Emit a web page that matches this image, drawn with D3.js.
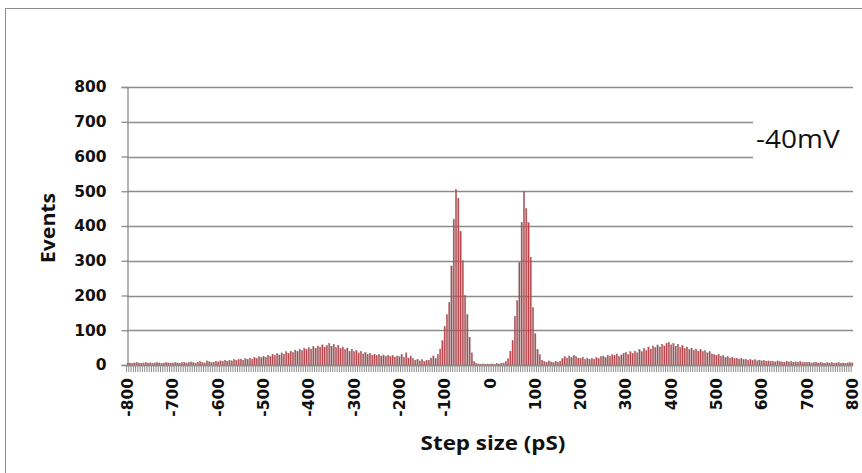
<!DOCTYPE html>
<html>
<head>
<meta charset="utf-8">
<script src="https://cdn.jsdelivr.net/npm/d3@7"></script>
<style>
  body { margin: 0; background: #fff; }
  text { font-family: "DejaVu Sans", Verdana, sans-serif; }
</style>
</head>
<body>
<script>
// step sizes, -800..800 pS in 5 pS bins
var stepSizes = d3.range(-800, 801, 5);

// events per bin, one row per 100 pS
var events = [
  5, 6, 5, 6, 7, 6, 5, 6, 7, 6, 6, 5, 6, 7, 6, 5, 6, 7, 6, 6,
  6, 7, 6, 5, 7, 8, 6, 7, 9, 7, 6, 8, 10, 7, 6, 12, 9, 7, 8, 11,
  9, 12, 10, 13, 11, 14, 12, 16, 13, 15, 17, 14, 18, 16, 20, 17, 22, 19, 24, 21,
  25, 22, 28, 24, 30, 27, 33, 29, 35, 31, 38, 34, 40, 36, 43, 39, 45, 41, 48, 44,
  50, 46, 53, 48, 55, 51, 58, 52, 56, 62, 54, 60, 50, 57, 47, 52, 44, 49, 40, 46,
  38, 42, 35, 39, 32, 36, 30, 34, 28, 31, 27, 30, 26, 29, 25, 28, 24, 27, 23, 26,
  24, 30, 22, 35, 20, 26, 18, 14, 16, 12, 15, 10, 13, 14, 20, 26, 18, 30, 46, 70,
  110, 145, 180, 285, 420, 505, 480, 385, 300, 200, 145, 80, 35, 10, 4, 3, 2, 3, 2, 3,
  2, 3, 2, 4, 3, 5, 6, 10, 18, 40, 70, 140, 185, 295, 410, 500, 450, 410, 310, 165,
  90, 45, 30, 14, 10, 8, 12, 9, 7, 10, 8, 11, 18, 24, 20, 26, 22, 28, 24, 20,
  18, 22, 16, 20, 15, 19, 17, 21, 18, 24, 26, 22, 28, 25, 30, 27, 32, 24, 29, 34,
  36, 30, 38, 33, 40, 35, 45, 38, 48, 42, 52, 46, 55, 50, 58, 52, 60, 55, 63, 65,
  58, 62, 54, 60, 50, 56, 48, 52, 45, 49, 42, 46, 40, 44, 38, 41, 35, 38, 32, 30,
  28, 31, 25, 27, 22, 24, 20, 22, 18, 20, 17, 19, 15, 17, 14, 16, 13, 15, 12, 14,
  12, 13, 11, 12, 10, 11, 9, 12, 10, 9, 8, 11, 9, 10, 8, 9, 8, 10, 7, 8,
  7, 8, 6, 7, 8, 6, 7, 6, 5, 7, 6, 7, 5, 6, 7, 5, 6, 5, 6, 7,
  6
];

var yTicks = [0, 100, 200, 300, 400, 500, 600, 700, 800];
var xLabels = [-800, -700, -600, -500, -400, -300, -200, -100, 0,
               100, 200, 300, 400, 500, 600, 700, 800];

var width = 862, height = 473;
var plotLeft = 127, plotRight = 853, plotTop = 87, plotBottom = 365;

var svg = d3.select('body').append('svg')
  .attr('width', width)
  .attr('height', height);

// outer frame
svg.append('rect')
  .attr('x', 5.5).attr('y', 8.5)
  .attr('width', 870).attr('height', 480)
  .attr('fill', 'none')
  .attr('stroke', '#8c8c8c');

var x = d3.scaleBand()
  .domain(stepSizes)
  .range([plotLeft, plotRight])
  .paddingInner(0.4);

var y = d3.scaleLinear()
  .domain([0, 800])
  .range([plotBottom, plotTop]);

// gridlines
svg.append('g')
  .selectAll('line')
  .data(yTicks)
  .join('line')
  .attr('x1', plotLeft).attr('x2', plotRight)
  .attr('y1', function(d) { return Math.round(y(d)) + 0.5; })
  .attr('y2', function(d) { return Math.round(y(d)) + 0.5; })
  .attr('stroke', '#8c8c8c')
  .attr('stroke-width', 1.3);

// y axis
var yAxis = svg.append('g')
  .attr('transform', 'translate(' + (plotLeft + 0.5) + ',0)')
  .call(d3.axisLeft(y).tickValues(yTicks).tickSize(6).tickPadding(15));
yAxis.select('.domain').attr('stroke', '#8c8c8c').attr('stroke-width', 1.3);
yAxis.selectAll('.tick line').attr('stroke', '#8c8c8c').attr('stroke-width', 1.3);
yAxis.selectAll('.tick text')
  .attr('font-size', 15.5)
  .attr('font-weight', 'bold')
  .attr('fill', '#111')
  .style('font-family', '"DejaVu Sans", Verdana, sans-serif');

// bars
svg.append('g')
  .selectAll('rect')
  .data(events)
  .join('rect')
  .attr('x', function(d, i) { return x(stepSizes[i]); })
  .attr('y', function(d) { return y(d); })
  .attr('width', x.bandwidth())
  .attr('height', function(d) { return y(0) - y(d); })
  .attr('fill', '#c23f48')
  .attr('stroke', '#947070')
  .attr('stroke-width', 0.35);

// category tick marks under the axis
var step = x.step();
svg.append('g')
  .selectAll('line')
  .data(stepSizes)
  .join('line')
  .attr('x1', function(d) { return x(d) - step * 0.2; })
  .attr('x2', function(d) { return x(d) - step * 0.2; })
  .attr('y1', plotBottom)
  .attr('y2', plotBottom + 7)
  .attr('stroke', '#8c8c8c')
  .attr('stroke-width', 1);

// x axis line
svg.append('line')
  .attr('x1', plotLeft).attr('x2', plotRight)
  .attr('y1', plotBottom + 0.5).attr('y2', plotBottom + 0.5)
  .attr('stroke', '#8c8c8c')
  .attr('stroke-width', 1.3);

// x labels, rotated
svg.append('g')
  .selectAll('text')
  .data(xLabels)
  .join('text')
  .attr('transform', function(d) {
    return 'translate(' + (x(d) + x.bandwidth() / 2 + 5.5) + ',' + (plotBottom + 13) + ') rotate(-90)';
  })
  .attr('text-anchor', 'end')
  .attr('font-size', 15.5)
  .attr('font-weight', 'bold')
  .attr('fill', '#111')
  .text(function(d) { return d; });

// axis titles
svg.append('text')
  .attr('transform', 'translate(55,228) rotate(-90) scale(1.12,1)')
  .attr('text-anchor', 'middle')
  .attr('font-size', 19)
  .attr('font-weight', 'bold')
  .attr('fill', '#111')
  .style('font-family', '"Open Sans", sans-serif')
  .text('Events');

svg.append('text')
  .attr('transform', 'translate(493,450) scale(1.12,1)')
  .attr('text-anchor', 'middle')
  .attr('font-size', 20)
  .attr('font-weight', 'bold')
  .attr('fill', '#111')
  .style('font-family', '"Open Sans", sans-serif')
  .text('Step size (pS)');

// voltage label box
svg.append('rect')
  .attr('x', 753).attr('y', 112)
  .attr('width', 102).attr('height', 50)
  .attr('fill', '#fff');

svg.append('text')
  .attr('transform', 'translate(756,148) scale(1.12,1)')
  .attr('font-size', 25)
  .attr('fill', '#111')
  .style('font-family', '"Open Sans", sans-serif')
  .text('-40mV');
</script>
</body>
</html>
